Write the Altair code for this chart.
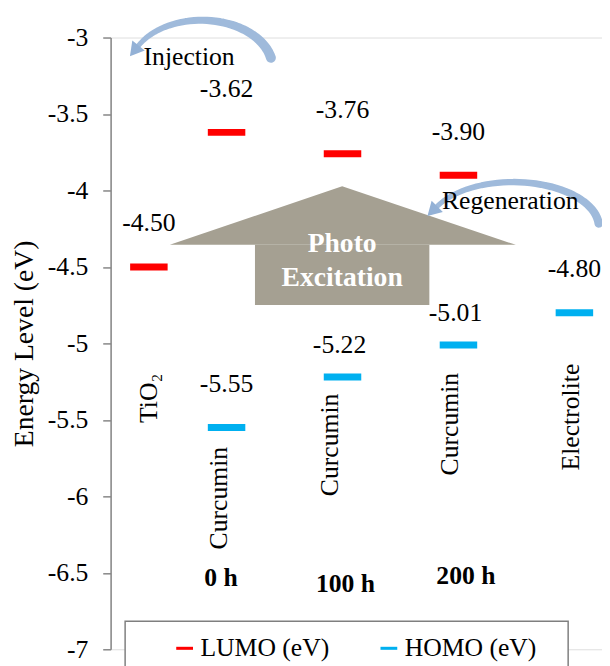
import math
import altair as alt
import pandas as pd

# ---------------- data ----------------
categories = ["TiO2", "Curcumin 0 h", "Curcumin 100 h", "Curcumin 200 h", "Electrolite"]
x_position = [0.33, 1.0, 2.0, 3.0, 4.0]
lumo = [-4.50, -3.62, -3.76, -3.90, None]
homo = [None, -5.55, -5.22, -5.01, -4.80]
series_names = ["LUMO (eV)", "HOMO (eV)"]
series_colors = ["#FF0000", "#00B0F0"]
y_ticks = [-3, -3.5, -4, -4.5, -5, -5.5, -6, -6.5, -7]
nudged_labels = ["-5.22", "-5.01"]

# category annotations (rotated), anchored in data units
cat_text = ["TiO\u2082", "Curcumin", "Curcumin", "Curcumin", "Electrolite"]
cat_x = [0.332, 0.935, 1.895, 2.925, 3.972]
cat_y = [-5.52, -6.347, -5.999, -5.863, -5.831]

time_text = ["0 h", "100 h", "200 h"]
time_x = [0.953, 2.026, 3.064]
time_y = [-6.586, -6.625, -6.573]

rows = []
for cat, xp, lo, ho in zip(categories, x_position, lumo, homo):
    for name, v in ((series_names[0], lo), (series_names[1], ho)):
        if v is not None:
            rows.append({"category": cat, "x": xp, "y": v, "series": name,
                         "label": f"{v:.2f}"})
levels = pd.DataFrame(rows)

cats = pd.DataFrame({"x": cat_x, "y": cat_y, "text": cat_text})
times = pd.DataFrame({"x": time_x, "y": time_y, "text": time_text})

# ---------------- scales ----------------
xs = alt.Scale(domain=[0, 4.238], nice=False, zero=False)
ys = alt.Scale(domain=[-7, -3], nice=False, zero=False)
FONT = "Liberation Serif"

X = alt.X("x:Q", scale=xs, axis=None)
Y = alt.Y("y:Q", scale=ys, axis=alt.Axis(
    values=y_ticks, title="Energy Level (eV)", grid=False,
    labelExpr="toString(datum.value)", labelFont=FONT, labelFontSize=26,
    labelColor="black", labelPadding=15, labelOverlap=False,
    tickSize=8, tickColor="#868686", tickWidth=1.5,
    domainColor="#868686", domainWidth=1.5,
    titleFont=FONT, titleFontSize=28, titleFontWeight="normal",
    titleColor="black", titleX=-79, titleY=310, titleAngle=270,
    titleBaseline="alphabetic", titleAlign="center"))

# ---------------- annotation geometry (data units) ----------------
PX = 117.5   # px per x unit
PY = 154.9   # px per y unit


def arc(cx, cy, rx, ry, t0, t1, w0, w1, n=40):
    pts = []
    for i in range(n + 1):
        t = math.radians(t0 + (t1 - t0) * i / n)
        pts.append({"i": i,
                    "x": cx + rx * math.cos(t) / PX,
                    "y": cy + ry * math.sin(t) / PY,
                    "w": w0 + (w1 - w0) * i / n})
    return pts


def head_point(c, rx, ry, t, length):
    tr = math.radians(t)
    ex, ey = rx * math.cos(tr), -ry * math.sin(tr)          # screen px offsets
    dx, dy = -rx * math.sin(tr), -ry * math.cos(tr)
    norm = math.hypot(dx, dy)
    dx, dy = dx / norm, dy / norm
    ang = (math.degrees(math.atan2(dx, -dy)) + 360) % 360
    hx = ex + dx * length * 0.4
    hy = ey + dy * length * 0.4
    return {"x": c[0] + hx / PX, "y": c[1] - hy / PY, "angle": ang}


inj_c = (0.783, -3.197)
inj_pts = arc(inj_c[0], inj_c[1], 72, 48, 12, 152, 10, 5)
regen_c = (3.472, -4.242)
regen_pts = arc(regen_c[0], regen_c[1], 87, 46, 5, 152, 8.5, 5)

heads = pd.DataFrame([head_point(inj_c, 72, 48, 152, 18),
                      head_point(regen_c, 87, 46, 152, 18)])

# photo-excitation arrow: head triangle + shaft
arrow_head = pd.DataFrame({
    "x": [0.511, 1.997, 3.495],
    "y": [-4.3557, -3.9716, -4.3557],
    "y2": [-4.3557, -4.3557, -4.3557],
})
arrow_shaft = pd.DataFrame({"x": [1.245], "x2": [2.749],
                            "y": [-4.3557], "y2": [-4.7482]})

words = pd.DataFrame({
    "x": [0.677, 3.447],
    "y": [-3.1775, -4.118],
    "text": ["Injection", "Regeneration"],
})
photo = pd.DataFrame({"x": [1.997, 1.997], "y": [-4.404, -4.6236],
                      "text": ["Photo", "Excitation"]})

# ---------------- layers ----------------
ARROW_GREY = "#A5A092"
head_area = alt.Chart(arrow_head).mark_area(
    color=ARROW_GREY, opacity=1, interpolate="linear").encode(
    x=X, y=Y, y2=alt.Y2("y2:Q"))
shaft_rect = alt.Chart(arrow_shaft).mark_rect(color=ARROW_GREY, opacity=1).encode(
    x=X, x2=alt.X2("x2:Q"), y=Y, y2=alt.Y2("y2:Q"))

photo_text = alt.Chart(photo).mark_text(
    font=FONT, fontSize=28, fontWeight="bold", color="white",
    align="center", baseline="alphabetic").encode(x=X, y=Y, text="text:N")

inj_trail = alt.Chart(pd.DataFrame(inj_pts)).mark_trail(color="#9FBADB", opacity=1).encode(
    x=X, y=Y, size=alt.Size("w:Q", scale=None, legend=None), order="i:Q")
regen_trail = alt.Chart(pd.DataFrame(regen_pts)).mark_trail(color="#9FBADB", opacity=1).encode(
    x=X, y=Y, size=alt.Size("w:Q", scale=None, legend=None), order="i:Q")
arrow_heads = alt.Chart(heads).mark_point(
    shape="triangle-up", filled=True, color="#93B1D6", opacity=1, size=260).encode(
    x=X, y=Y, angle=alt.Angle("angle:Q", scale=None))

word_text = alt.Chart(words).mark_text(
    font=FONT, fontSize=26, color="black", align="center",
    baseline="alphabetic").encode(x=X, y=Y, text="text:N")

ticks = alt.Chart(levels).mark_tick(
    orient="horizontal", size=38, thickness=7, opacity=1).encode(
    x=X, y=Y,
    color=alt.Color("series:N",
                    scale=alt.Scale(domain=series_names, range=series_colors),
                    legend=alt.Legend(
                        title=None, orient="none", direction="horizontal",
                        legendX=62, legendY=606, padding=0,
                        symbolType="M-1,-0.18H1V0.18H-1Z", symbolSize=289,
                        symbolStrokeWidth=0, symbolOpacity=1,
                        labelFont=FONT, labelFontSize=26,
                        labelColor="black", labelOffset=3, columnPadding=47,
                        labelLimit=300)))

value_text = alt.Chart(levels).mark_text(
    font=FONT, fontSize=26, color="black", align="center", baseline="alphabetic",
    dy=-36).encode(x=X, y=Y, text="label:N").transform_filter(
    ~alt.FieldOneOfPredicate(field="label", oneOf=nudged_labels))
value_text_nudged = alt.Chart(levels).mark_text(
    font=FONT, fontSize=26, color="black", align="center", baseline="alphabetic",
    dy=-24, dx=-3).encode(x=X, y=Y, text="label:N").transform_filter(
    alt.FieldOneOfPredicate(field="label", oneOf=nudged_labels))

cat_labels = alt.Chart(cats).mark_text(
    font=FONT, fontSize=26, color="black", angle=270, align="left",
    baseline="middle").encode(x=X, y=Y, text="text:N")

time_labels = alt.Chart(times).mark_text(
    font=FONT, fontSize=26, fontWeight="bold", color="black", align="center",
    baseline="alphabetic").encode(x=X, y=Y, text="text:N")

legend_box = alt.Chart(alt.Data(values=[{}])).mark_rect(
    fill="white", stroke="#7F7F7F", strokeWidth=1.5, opacity=1).encode(
    x=alt.value(14.7), x2=alt.value(463.7), y=alt.value(591.5), y2=alt.value(660))

chart = alt.layer(
    head_area, shaft_rect, photo_text, inj_trail, regen_trail, arrow_heads,
    word_text, ticks, value_text, value_text_nudged, cat_labels, time_labels,
    legend_box,
).properties(
    width=498, height=620,
    padding={"left": 104, "top": 25.5, "right": 0, "bottom": 12.5},
    autosize=alt.AutoSizeParams(type="none"),
).configure_view(stroke=None).configure(background="white")

chart.save("out.html", embed_options={"renderer": "svg", "actions": False})
